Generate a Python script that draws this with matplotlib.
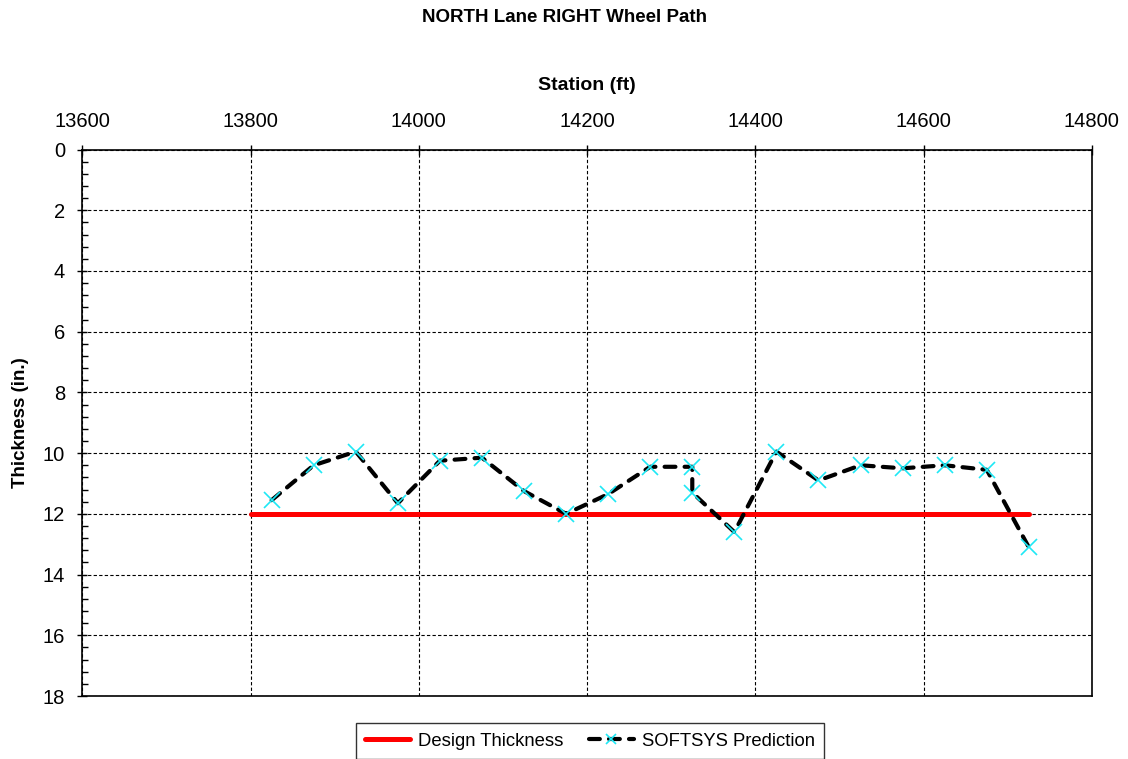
import numpy as np
import matplotlib.pyplot as plt
from matplotlib.ticker import MultipleLocator

plt.rcParams['font.family'] = ['Liberation Sans', 'DejaVu Sans']

# SOFTSYS predicted thickness along the north lane, right wheel path
station = [13825, 13875, 13925, 13975, 14025, 14075, 14125, 14175, 14225,
           14275, 14325, 14325, 14375, 14425, 14475, 14525, 14575, 14625,
           14675, 14725]
thickness = [11.55, 10.4, 9.95, 11.65, 10.25, 10.15, 11.25, 12.0, 11.35,
             10.45, 10.45, 11.3, 12.6, 9.95, 10.9, 10.4, 10.5, 10.4,
             10.55, 13.1]

# design thickness over the project limits
design_station = [13800, 14725]
design_thickness = [12, 12]

fig = plt.figure(figsize=(11.28, 7.59), dpi=100)
ax = fig.add_axes([0.073, 0.083, 0.895, 0.72])

ax.plot(design_station, design_thickness, color='red', lw=3.6,
        solid_capstyle='round', label='Design Thickness', zorder=3)
ax.plot(station, thickness, color='black', lw=3, dashes=(2.6, 2.2),
        dash_capstyle='round', marker='x', ms=12, mec='#1ee8f5', mew=1.2,
        label='SOFTSYS Prediction', zorder=4)

ax.set_xlim(13600, 14800)
ax.set_ylim(18, 0)
ax.xaxis.set_major_locator(MultipleLocator(200))
ax.yaxis.set_major_locator(MultipleLocator(2))
ax.yaxis.set_minor_locator(MultipleLocator(0.4))

ax.xaxis.tick_top()
ax.xaxis.set_label_position('top')
ax.tick_params(axis='both', which='major', direction='inout', length=7,
               width=1, labelsize=14.5)
ax.tick_params(axis='y', which='minor', direction='in', length=4, width=1)
ax.tick_params(axis='x', pad=10)
ax.tick_params(axis='y', pad=9)

ax.grid(True, which='major', color='black', ls=(0, (3, 2)), lw=0.8)
for s in ax.spines.values():
    s.set_linewidth(1.2)

ax.set_xlabel('Station (ft)', fontsize=14, fontweight='bold', labelpad=16)
ax.set_ylabel('Thickness (in.)', fontsize=13.5, fontweight='bold',
              labelpad=10)
fig.text(0.5, 1 - 18 / 759, 'NORTH Lane RIGHT Wheel Path', fontsize=13.5,
         fontweight='bold', ha='center', va='center')

leg = ax.legend(loc='upper center', bbox_to_anchor=(0.503, -0.033), ncol=2,
                fontsize=13.3, frameon=True, fancybox=False,
                edgecolor='black', handlelength=2.4, handletextpad=0.45,
                columnspacing=1.4, borderpad=0.5, markerscale=0.6)
leg.get_frame().set_linewidth(1)

fig.savefig('out.png', dpi=100)
